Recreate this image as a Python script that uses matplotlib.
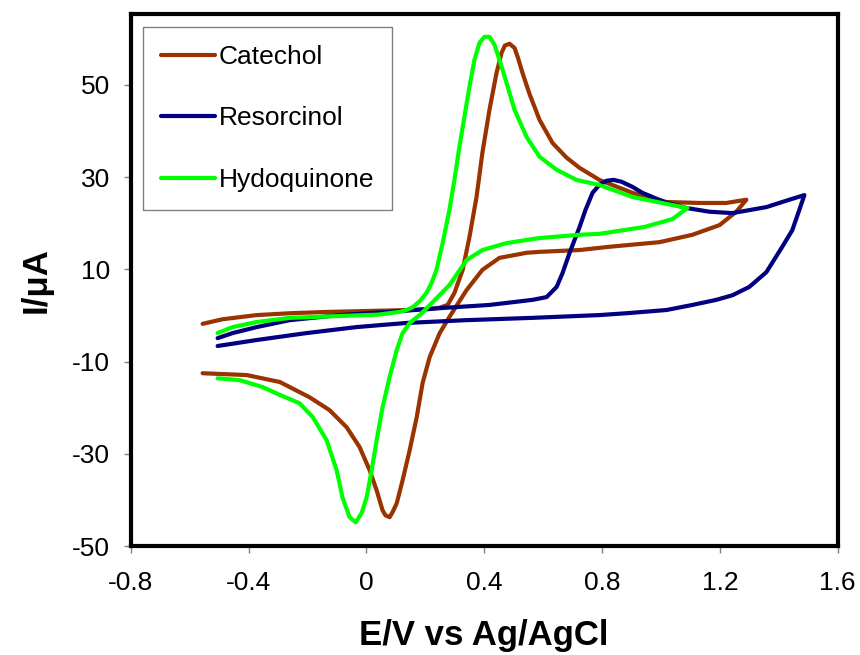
import matplotlib
matplotlib.use("Agg")
import matplotlib.pyplot as plt

plt.rcParams['font.family'] = ['Liberation Sans', 'DejaVu Sans']
plt.rcParams['axes.unicode_minus'] = False

# Cyclic voltammograms: potential (V vs Ag/AgCl) and current (uA)
catechol_E = [-0.556, -0.488, -0.372, -0.260, -0.125, 0.011, 0.147, 0.215, 0.249,
              0.276, 0.299, 0.327, 0.350, 0.374, 0.394, 0.418, 0.442, 0.459, 0.470,
              0.486, 0.503, 0.515, 0.530, 0.554, 0.588, 0.632, 0.680, 0.724, 0.791,
              0.903, 1.019, 1.131, 1.222, 1.290,
              1.256, 1.199, 1.107, 0.995, 0.825, 0.724, 0.588, 0.544, 0.452, 0.394,
              0.340, 0.282, 0.249, 0.215, 0.191, 0.171, 0.147, 0.123, 0.103, 0.089,
              0.079, 0.065, 0.055, 0.035, 0.011, -0.023, -0.067, -0.125, -0.193,
              -0.294, -0.406, -0.556]
catechol_I = [-1.8, -0.8, 0.1, 0.5, 0.8, 1.0, 1.2, 1.4, 1.7,
              2.3, 4.9, 9.9, 17.0, 25.7, 35.3, 44.6, 52.6, 56.9, 58.5,
              58.9, 58.0, 55.8, 52.6, 48.0, 42.4, 37.4, 34.2, 32.0, 29.4,
              26.6, 24.6, 24.4, 24.4, 25.1,
              22.5, 19.6, 17.5, 15.9, 14.9, 14.2, 13.8, 13.6, 12.5, 9.9,
              5.5, -0.3, -3.8, -9.0, -14.6, -22.0, -29.2, -35.7, -40.7, -42.6,
              -43.7, -43.3, -42.2, -37.9, -33.5, -28.5, -24.2, -20.5, -17.7,
              -14.4, -12.9, -12.5]

resorcinol_E = [-0.505, -0.454, -0.372, -0.260, -0.091, 0.079, 0.249, 0.418, 0.564,
                0.612, 0.646, 0.666, 0.690, 0.724, 0.744, 0.768, 0.791, 0.815, 0.839,
                0.866, 0.903, 0.937, 1.012, 1.087, 1.165, 1.243, 1.358, 1.436, 1.487,
                1.470, 1.446, 1.412, 1.358, 1.300, 1.243, 1.188, 1.107, 1.019, 0.883,
                0.791, 0.564, 0.340, 0.137, -0.033, -0.203, -0.372, -0.505]
resorcinol_I = [-4.9, -3.8, -2.5, -1.0, 0.1, 0.8, 1.6, 2.3, 3.4,
                4.0, 6.2, 9.2, 13.6, 19.2, 22.9, 26.6, 28.3, 29.2, 29.4,
                29.0, 27.9, 26.6, 24.6, 23.3, 22.5, 22.2, 23.5, 25.1, 26.1,
                22.9, 18.5, 14.9, 9.4, 6.2, 4.4, 3.4, 2.3, 1.2, 0.5,
                0.1, -0.5, -1.0, -1.6, -2.5, -3.8, -5.3, -6.6]

hydroquinone_E = [-0.505, -0.454, -0.372, -0.260, -0.091, 0.040, 0.113, 0.137, 0.157,
                  0.181, 0.204, 0.221, 0.238, 0.259, 0.282, 0.299, 0.316, 0.333, 0.350,
                  0.367, 0.384, 0.401, 0.418, 0.435, 0.452, 0.476, 0.503, 0.544, 0.588,
                  0.646, 0.713, 0.791, 0.903, 1.019, 1.090,
                  1.039, 0.944, 0.791, 0.724, 0.588, 0.476, 0.394, 0.340, 0.282, 0.225,
                  0.181, 0.147, 0.123, 0.103, 0.079, 0.055, 0.035, 0.018, 0.001, -0.016,
                  -0.036, -0.057, -0.081, -0.101, -0.135, -0.182, -0.227, -0.294, -0.352,
                  -0.430, -0.505]
hydroquinone_I = [-3.8, -2.5, -1.4, -0.5, -0.1, 0.2, 0.8, 1.2, 1.8,
                  3.1, 4.9, 7.0, 9.9, 15.7, 22.9, 29.4, 36.6, 43.1, 49.6,
                  55.4, 59.1, 60.4, 60.4, 58.7, 55.4, 50.4, 44.6, 38.7, 34.4,
                  31.6, 29.4, 28.3, 25.7, 24.2, 23.3,
                  20.9, 19.2, 17.7, 17.5, 16.8, 15.7, 14.2, 12.0, 6.6, 2.9,
                  0.1, -1.6, -3.8, -7.5, -13.3, -19.9, -27.0, -33.5, -39.4, -42.8,
                  -44.8, -43.7, -39.4, -33.5, -27.0, -22.0, -19.0, -17.2, -15.5,
                  -14.0, -13.6]

series_names = ["Catechol", "Resorcinol", "Hydoquinone"]
series_colors = ["#993300", "#000080", "#00FF00"]

x_ticks = [-0.8, -0.4, 0, 0.4, 0.8, 1.2, 1.6]
x_tick_labels = ["-0.8", "-0.4", "0", "0.4", "0.8", "1.2", "1.6"]
y_ticks = [-50, -30, -10, 10, 30, 50]

fig = plt.figure(figsize=(8.6, 6.55), dpi=100)
ax = fig.add_axes([0.152, 0.166, 0.822, 0.813])

curves = [(catechol_E, catechol_I), (resorcinol_E, resorcinol_I),
          (hydroquinone_E, hydroquinone_I)]
for (e, i), name, color in zip(curves, series_names, series_colors):
    ax.plot(e, i, color=color, lw=3.0, label=name,
            solid_joinstyle='round', solid_capstyle='round')

ax.set_xlim(-0.8, 1.6)
ax.set_ylim(-50, 65.4)
ax.set_xticks(x_ticks)
ax.set_xticklabels(x_tick_labels)
ax.set_yticks(y_ticks)
ax.tick_params(direction='out', length=5, width=1, color='#808080', labelsize=19)
ax.tick_params(axis='x', pad=13)
ax.tick_params(axis='y', pad=10)
for sp in ax.spines.values():
    sp.set_linewidth(3)
    sp.set_color('black')

ax.set_xlabel("E/V vs Ag/AgCl", fontsize=25, fontweight='bold')
ax.set_ylabel("I/\u03bcA", fontsize=25, fontweight='bold')
ax.xaxis.set_label_coords(0.5, -0.137)
ax.yaxis.set_label_coords(-0.11, 0.5)

leg = ax.legend(loc='upper left', bbox_to_anchor=(0.017, 0.976), borderaxespad=0,
                fontsize=19, handlelength=2.05, handletextpad=0.12,
                labelspacing=1.42, borderpad=0.7, fancybox=False, framealpha=1)
leg.get_frame().set_edgecolor('#808080')
leg.get_frame().set_linewidth(1)

fig.savefig("out.png", dpi=100)
